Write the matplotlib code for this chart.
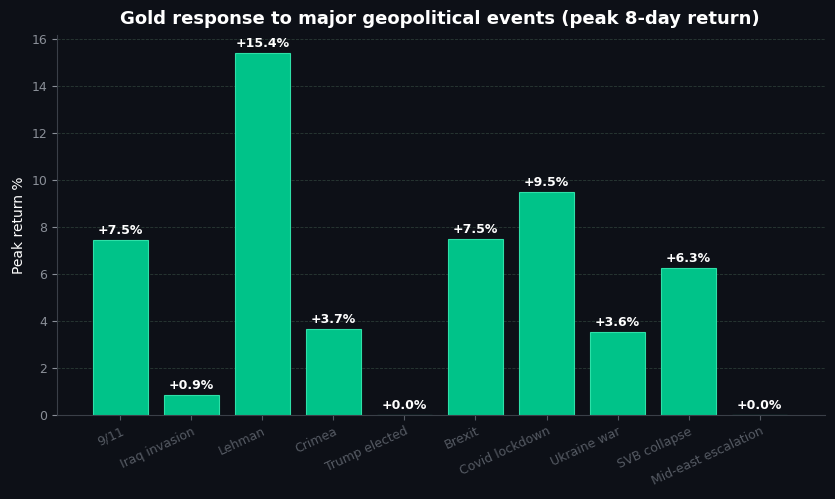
import matplotlib
matplotlib.use("Agg")
import matplotlib.pyplot as plt

events = ["9/11", "Iraq invasion", "Lehman", "Crimea", "Trump elected", "Brexit",
          "Covid lockdown", "Ukraine war", "SVB collapse", "Mid-east escalation"]
values = [7.45, 0.85, 15.4, 3.65, 0.0, 7.5, 9.5, 3.55, 6.25, 0.0]
labels = ["+7.5%", "+0.9%", "+15.4%", "+3.7%", "+0.0%", "+7.5%", "+9.5%", "+3.6%", "+6.3%", "+0.0%"]

bg = "#0d1017"
fig = plt.figure(figsize=(8.35, 4.99), dpi=100, facecolor=bg)
ax = fig.add_axes([57/835, 84/499, 768/835, 380/499], facecolor=bg)
x = list(range(len(events)))
ax.bar(x, values, width=0.77, color="#00c389", edgecolor="#2ee0a8", linewidth=0.8, zorder=2)
for xi, v, l in zip(x, values, labels):
    ax.text(xi, v + 0.12, l, ha="center", va="bottom", color="white", fontsize=9, fontweight="bold", zorder=3)
ax.set_xlim(-0.89, 9.92)
ax.set_ylim(0, 16.17)
ax.set_yticks(range(0, 17, 2))
ax.set_xticks(x)
ax.set_xticklabels(events, rotation=25, ha="right", rotation_mode="anchor", color="#8a8f98", fontsize=9)
ax.tick_params(axis="y", colors="#8a8f98", labelsize=9)
ax.tick_params(axis="x", colors="#555a63")
ax.grid(axis="y", color="#2a3a35", linestyle="--", linewidth=0.6, zorder=0)
for s in ["top", "right"]:
    ax.spines[s].set_visible(False)
for s in ["left", "bottom"]:
    ax.spines[s].set_color("#3a3f48")
ax.set_ylabel("Peak return %", color="white", fontsize=10)
fig.text(440/835, 1-19/499, "Gold response to major geopolitical events (peak 8-day return)",
         ha="center", va="center", color="white", fontsize=13, fontweight="bold")
fig.savefig("out.png", dpi=100, facecolor=bg)
